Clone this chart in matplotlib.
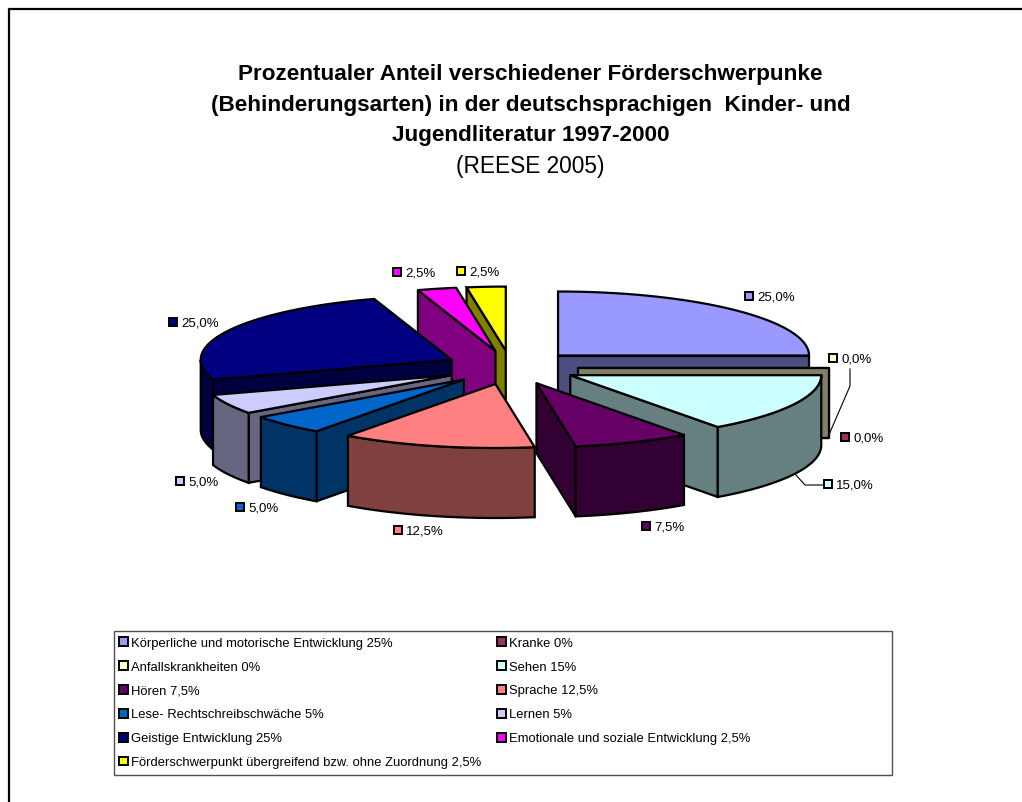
import numpy as np
from matplotlib import pyplot as plt
from matplotlib.patches import Polygon, Rectangle

plt.rcParams["font.family"] = ["Liberation Sans", "DejaVu Sans"]

# chart data, in series order
names = ["Körperliche und motorische Entwicklung 25%", "Kranke 0%",
         "Anfallskrankheiten 0%", "Sehen 15%",
         "Hören 7,5%", "Sprache 12,5%",
         "Lese- Rechtschreibschwäche 5%", "Lernen 5%",
         "Geistige Entwicklung 25%", "Emotionale und soziale Entwicklung 2,5%",
         "Förderschwerpunkt übergreifend bzw. ohne Zuordnung 2,5%"]
values = [25.0, 0.0, 0.0, 15.0, 7.5, 12.5, 5.0, 5.0, 25.0, 2.5, 2.5]
colors = ["#9999FF", "#993366", "#FFFFCC", "#CCFFFF", "#660066", "#FF8080",
          "#0066CC", "#CCCCFF", "#000080", "#FF00FF", "#FFFF00"]
value_labels = ["25,0%", "0,0%", "0,0%", "15,0%", "7,5%", "12,5%",
                "5,0%", "5,0%", "25,0%", "2,5%", "2,5%"]
title_lines = ["Prozentualer Anteil verschiedener Förderschwerpunke",
               "(Behinderungsarten) in der deutschsprachigen  Kinder- und",
               "Jugendliteratur 1997-2000"]
subtitle = "(REESE 2005)"

# where excel put the data labels (key centre in pixels)
label_pos = [(749, 297), (845, 438), (833, 359), (828, 485), (646, 527), (398, 531),
             (240, 508), (180, 482), (173, 323), (397, 273), (461, 272)]

# pie geometry in pixels
cx, cy = 511, 368.5
rx, ry = 251, 64
depth = 70
explode = 0.265
lw = 1.6


def darker(col):
    r, g, b = plt.matplotlib.colors.to_rgb(col)
    return (r * 0.5, g * 0.5, b * 0.5)


def point(ox, oy, ang):
    # angle in degrees, clockwise from 12 o'clock
    a = np.radians(ang)
    return ox + rx * np.sin(a), oy - ry * np.cos(a)


def side(ax, p0, p1, col, zo):
    pts = [p0, p1, (p1[0], p1[1] + depth), (p0[0], p0[1] + depth)]
    ax.add_patch(Polygon(pts, closed=True, fc=col, ec="black", lw=lw, joinstyle="round", zorder=zo))


def draw_slice(ax, start, stop, col, zo):
    mid = np.radians((start + stop) / 2)
    ox = cx + explode * rx * np.sin(mid)
    oy = cy - explode * ry * np.cos(mid)
    dark = darker(col)
    apex = (ox, oy)
    # cut faces, only the ones turned to the viewer
    if 180 < start % 360 < 360:
        side(ax, apex, point(ox, oy, start), dark, zo)
    if 0 < stop % 360 < 180:
        side(ax, apex, point(ox, oy, stop), dark, zo + 0.01)
    # outer wall, front half only
    lo, hi = max(start, 90), min(stop, 270)
    if hi > lo:
        ang = np.linspace(lo, hi, 60)
        top = [point(ox, oy, t) for t in ang]
        bottom = [(x, y + depth) for x, y in top][::-1]
        ax.add_patch(Polygon(top + bottom, closed=True, fc=dark, ec="black", lw=lw, zorder=zo + 0.02))
    # top face
    if stop > start:
        ang = np.linspace(start, stop, 80)
        pts = [apex] + [point(ox, oy, t) for t in ang]
        ax.add_patch(Polygon(pts, closed=True, fc=col, ec="black", lw=lw, zorder=zo + 0.03))


def key(ax, x, y, col, size=8.5):
    ax.add_patch(Rectangle((x - size / 2, y - size / 2), size, size, fc=col, ec="black", lw=1.4, zorder=50))


fig = plt.figure(figsize=(10.22, 8.03), dpi=100)
ax = fig.add_axes([0, 0, 1, 1])
ax.set_xlim(0, 1022)
ax.set_ylim(803, 0)
ax.axis("off")

# outer chart frame, only top and left are in the picture
ax.plot([9, 9, 1022], [803, 10, 10], color="black", lw=1.6, zorder=1)

for line, base in zip(title_lines, [80, 111.5, 141.5]):
    ax.text(530.5, base, line, ha="center", va="baseline", fontsize=16.2, fontweight="bold")
ax.text(530.5, 172.5, subtitle, ha="center", va="baseline", fontsize=16.3)

# slices back to front
total = sum(values)
edges = np.concatenate([[0], np.cumsum(values)]) / total * 360
order = sorted(range(len(values)), key=lambda i: -np.cos(np.radians((edges[i] + edges[i + 1]) / 2)))
for n, i in enumerate(order):
    draw_slice(ax, edges[i], edges[i + 1], colors[i], 5 + n)

# leader lines
ax.plot([850, 850, 828], [370, 387, 438], color="black", lw=0.8, zorder=40)
ax.plot([795, 805, 823], [475, 486, 486], color="black", lw=0.8, zorder=40)

for (x, y), txt, col in zip(label_pos, value_labels, colors):
    key(ax, x, y, col)
    ax.text(x + 8, y + 0.7, txt, ha="left", va="center", fontsize=9.5, zorder=50)

# legend
ax.add_patch(Rectangle((114, 632), 778, 144, fc="white", ec="#505050", lw=1.0, zorder=2))
for i, name in enumerate(names):
    row, column = divmod(i, 2)
    x = 123.7 + column * 378
    y = 642.7 + row * 23.9
    key(ax, x, y, colors[i])
    ax.text(x + 7.5, y + 1, name, ha="left", va="center", fontsize=9.4, zorder=50)

fig.savefig("out.png", dpi=100)
